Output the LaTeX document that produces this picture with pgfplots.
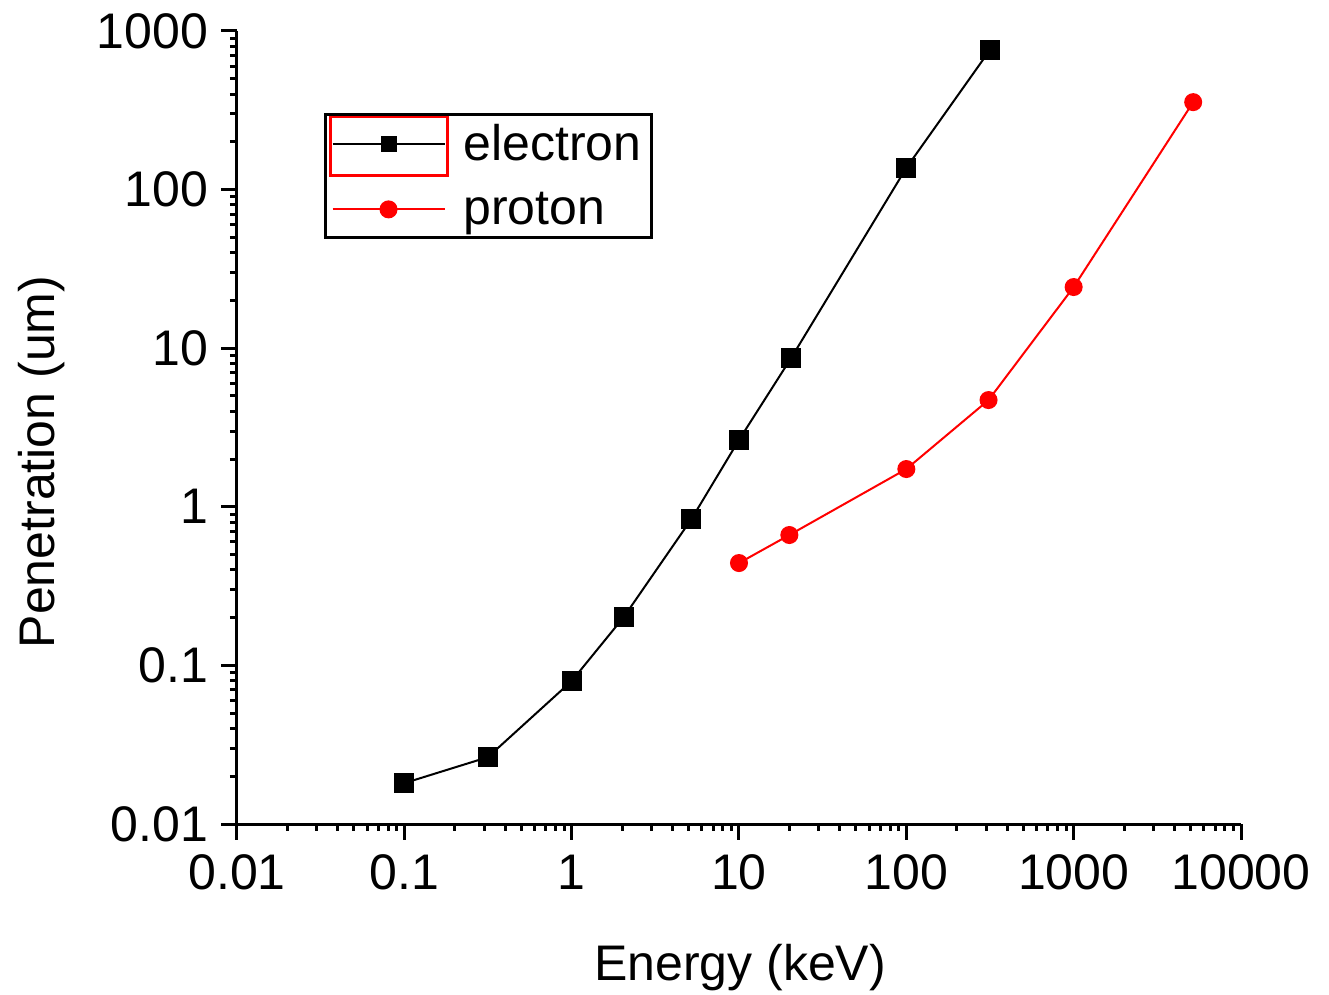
\documentclass[border=0pt]{standalone}
\usepackage{fontspec}
\setmainfont{Liberation Sans}
\usepackage{pgfplots}
\pgfplotsset{compat=1.18}
\begin{document}
\begin{tikzpicture}
\useasboundingbox (-118.5pt,-85.5pt) rectangle (546pt,412pt);
\begin{axis}[
  at={(0,0)}, anchor=south west,
  scale only axis, width=502pt, height=396.5pt,
  xmode=log, ymode=log,
  xmin=0.01, xmax=10000, ymin=0.01, ymax=1000,
  axis lines*=left,
  axis line style={line width=1.5pt},
  every tick/.style={black, line width=1.5pt},
  tick align=outside,
  major tick length=8pt, minor tick length=3.5pt,
  xtick={0.01,0.1,1,10,100,1000,10000},
  xticklabels={0.01,0.1,1,10,100,1000,10000},
  ytick={0.01,0.1,1,10,100,1000},
  yticklabels={0.01,0.1,1,10,100,1000},
  /pgf/number format/assume math mode=true,
  tick label style={font=\fontsize{25}{30}\selectfont},
  xticklabel style={yshift=-4pt},
  yticklabel style={xshift=-3pt},
  label style={font=\fontsize{25}{30}\selectfont},
  xlabel={Energy (keV)}, ylabel={Penetration (um)},
  xlabel style={at={(rel axis cs:0.501,-0.1816)}, anchor=center},
  ylabel style={at={(rel axis cs:-0.1942,0.4565)}, anchor=center},
  clip=false,
  legend cell align=left,
  legend style={at={(rel axis cs:0.0867,0.8966)}, anchor=north west,
    draw=black, line width=1.5pt, fill=none,
    font=\fontsize{25}{30}\selectfont,
    row sep=10pt, column sep=7pt, inner sep=3pt},
  legend image code/.code={\draw[mark repeat=2,mark phase=2] plot coordinates {(0pt,0pt) (28pt,0pt) (56pt,0pt)};},
]
\addlegendimage{black, line width=1pt, mark=square*, mark size=3.5pt, mark options={solid}}
\addlegendentry{electron}
\addlegendimage{red, line width=1pt, mark=*, mark size=4pt, mark options={solid}}
\addlegendentry{proton}
\addplot[forget plot, black, line width=1pt, mark=square*, mark size=4.5pt, mark options={solid}] coordinates {
(0.1,0.0181) (0.316,0.0264) (1,0.0797) (2.05,0.202) (5.2,0.837) (10,2.64) (20.5,8.67) (100,137) (316,759)};
\addplot[forget plot, red, line width=1pt, mark=*, mark size=4pt, mark options={solid}] coordinates {
(10,0.442) (20,0.664) (100,1.73) (310,4.71) (1000,24.3) (5180,356)};
\draw[red, line width=1.5pt] (rel axis cs:0.0936,0.8916) rectangle (rel axis cs:0.2092,0.8184);
\end{axis}
\end{tikzpicture}
\end{document}
